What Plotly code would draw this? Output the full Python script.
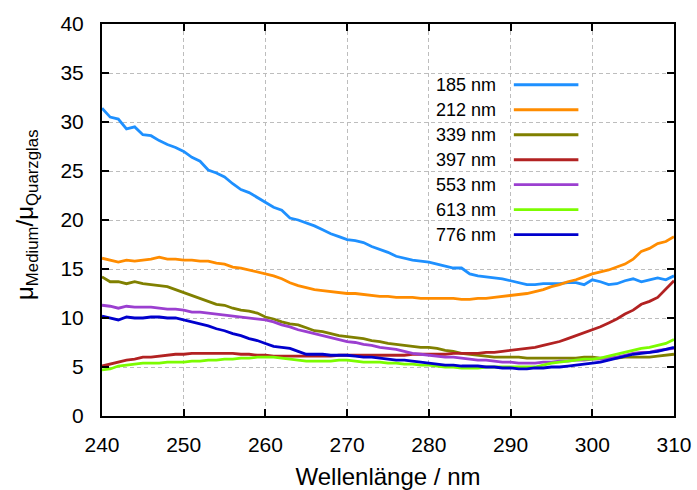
import plotly.graph_objects as go

# Wavelength axis (nm)
wavelength = list(range(240, 311))

# Attenuation ratio mu_Medium / mu_Quarzglas for each excitation wavelength
mu_185 = [31.4, 30.5, 30.3, 29.3, 29.5, 28.7, 28.6, 28.1, 27.7, 27.4,
          27.0, 26.4, 26.0, 25.1, 24.8, 24.4, 23.7, 23.1, 22.8, 22.3,
          21.8, 21.3, 21.0, 20.2, 20.0, 19.7, 19.4, 19.0, 18.6, 18.3,
          18.0, 17.9, 17.7, 17.3, 17.0, 16.7, 16.3, 16.1, 15.9, 15.8,
          15.7, 15.5, 15.3, 15.1, 15.1, 14.5, 14.3, 14.2, 14.1, 14.0,
          13.8, 13.6, 13.4, 13.4, 13.5, 13.5, 13.5, 13.6, 13.6, 13.4,
          13.9, 13.7, 13.4, 13.5, 13.8, 14.0, 13.7, 13.9, 14.1, 13.9,
          14.3]
mu_212 = [16.1, 15.9, 15.7, 15.9, 15.8, 15.9, 16.0, 16.2, 16.0, 16.0,
          15.9, 15.9, 15.8, 15.8, 15.6, 15.5, 15.2, 15.1, 14.9, 14.7,
          14.5, 14.3, 14.0, 13.6, 13.3, 13.1, 12.9, 12.8, 12.7, 12.6,
          12.5, 12.5, 12.4, 12.3, 12.2, 12.2, 12.1, 12.1, 12.1, 12.0,
          12.0, 12.0, 12.0, 12.0, 11.9, 11.9, 12.0, 12.0, 12.1, 12.2,
          12.3, 12.4, 12.5, 12.7, 12.9, 13.2, 13.4, 13.7, 13.9, 14.2,
          14.5, 14.7, 14.9, 15.2, 15.5, 16.0, 16.8, 17.1, 17.6, 17.8,
          18.3]
mu_339 = [14.2, 13.7, 13.7, 13.5, 13.7, 13.5, 13.4, 13.3, 13.2, 12.9,
          12.6, 12.3, 12.0, 11.7, 11.4, 11.3, 11.0, 10.8, 10.7, 10.5,
          10.1, 9.9, 9.6, 9.4, 9.3, 9.0, 8.7, 8.6, 8.4, 8.2,
          8.1, 8.0, 7.9, 7.7, 7.6, 7.4, 7.3, 7.2, 7.1, 7.0,
          7.0, 6.9, 6.7, 6.6, 6.4, 6.3, 6.2, 6.1, 6.0, 6.0,
          6.0, 6.0, 5.9, 5.9, 5.9, 5.9, 5.9, 5.9, 5.9, 6.0,
          6.0, 5.9, 5.9, 5.9, 6.0, 6.0, 6.0, 6.0, 6.1, 6.2,
          6.3]
mu_397 = [5.1, 5.3, 5.5, 5.7, 5.8, 6.0, 6.0, 6.1, 6.2, 6.3,
          6.3, 6.4, 6.4, 6.4, 6.4, 6.4, 6.4, 6.3, 6.3, 6.2,
          6.2, 6.1, 6.1, 6.1, 6.1, 6.1, 6.1, 6.1, 6.1, 6.2,
          6.2, 6.2, 6.2, 6.2, 6.2, 6.2, 6.2, 6.2, 6.3, 6.3,
          6.3, 6.3, 6.3, 6.4, 6.4, 6.4, 6.4, 6.5, 6.5, 6.6,
          6.7, 6.8, 6.9, 7.0, 7.2, 7.4, 7.6, 7.9, 8.2, 8.5,
          8.8, 9.1, 9.5, 9.9, 10.4, 10.8, 11.4, 11.7, 12.1, 13.0,
          13.8]
mu_553 = [11.3, 11.2, 11.0, 11.2, 11.1, 11.1, 11.1, 11.0, 10.9, 10.9,
          10.8, 10.6, 10.6, 10.5, 10.4, 10.3, 10.2, 10.1, 10.0, 9.9,
          9.8, 9.6, 9.3, 9.1, 8.8, 8.6, 8.4, 8.2, 8.0, 7.8,
          7.6, 7.5, 7.3, 7.2, 7.0, 6.9, 6.8, 6.6, 6.4, 6.3,
          6.2, 6.1, 6.0, 6.0, 5.9, 5.8, 5.7, 5.7, 5.6, 5.5,
          5.5, 5.4, 5.4, 5.4, 5.5, 5.5, 5.6, 5.6, 5.7, 5.7,
          5.8, 5.8, 5.9, 6.0, 6.2, 6.4, 6.5, 6.5, 6.7, 6.8,
          6.9]
mu_613 = [4.7, 4.8, 5.1, 5.2, 5.3, 5.4, 5.4, 5.4, 5.5, 5.5,
          5.5, 5.6, 5.6, 5.7, 5.7, 5.8, 5.8, 5.9, 5.9, 6.0,
          6.0, 6.0, 5.9, 5.8, 5.7, 5.6, 5.6, 5.6, 5.6, 5.7,
          5.7, 5.6, 5.5, 5.5, 5.5, 5.4, 5.4, 5.3, 5.3, 5.2,
          5.2, 5.1, 5.0, 5.0, 4.9, 4.9, 4.9, 5.0, 5.0, 5.0,
          5.0, 5.0, 5.0, 5.0, 5.2, 5.4, 5.5, 5.6, 5.7, 5.8,
          5.8, 5.9, 6.1, 6.3, 6.5, 6.7, 6.9, 7.0, 7.2, 7.4,
          7.8]
mu_776 = [10.2, 10.0, 9.8, 10.1, 10.0, 10.0, 10.1, 10.1, 10.0, 10.0,
          9.8, 9.6, 9.4, 9.2, 8.9, 8.7, 8.4, 8.2, 7.9, 7.7,
          7.4, 7.1, 7.0, 6.9, 6.6, 6.3, 6.3, 6.3, 6.2, 6.2,
          6.2, 6.1, 6.0, 6.0, 5.9, 5.8, 5.7, 5.7, 5.6, 5.5,
          5.4, 5.3, 5.2, 5.2, 5.1, 5.1, 5.1, 5.0, 5.0, 4.9,
          4.9, 4.8, 4.8, 4.9, 4.9, 5.0, 5.0, 5.1, 5.2, 5.3,
          5.4, 5.5, 5.7, 5.9, 6.1, 6.3, 6.4, 6.5, 6.6, 6.8,
          7.0]

series_labels = ["185 nm", "212 nm", "339 nm", "397 nm", "553 nm", "613 nm", "776 nm"]
series_values = [mu_185, mu_212, mu_339, mu_397, mu_553, mu_613, mu_776]
series_colors = ["#1e90ff", "#ff8c00", "#808000", "#b22222", "#9b3fd0", "#7cfc00", "#0000cd"]

x_ticks = [240, 250, 260, 270, 280, 290, 300, 310]
y_ticks = [0, 5, 10, 15, 20, 25, 30, 35, 40]

FONT = "Liberation Sans, Arial, Helvetica, sans-serif"

fig = go.Figure()
for label, values, color in zip(series_labels, series_values, series_colors):
    fig.add_trace(go.Scatter(
        x=wavelength, y=values, mode="lines", name=label,
        line=dict(color=color, width=2.8), showlegend=False,
    ))

# Key box: label on the left, line sample on the right
key_top, key_step = 33.8, 2.55
shapes = [dict(type="rect", xref="x", yref="y", x0=277.3, x1=299.8, y0=17.2, y1=35.0,
               fillcolor="white", line=dict(width=0), layer="below")]
annotations = []
for i, (label, color) in enumerate(zip(series_labels, series_colors)):
    yk = key_top - i * key_step
    annotations.append(dict(x=288.4, y=yk, xref="x", yref="y", text=label,
                            showarrow=False, xanchor="right", yanchor="middle",
                            font=dict(size=18, color="black", family=FONT)))
    shapes.append(dict(type="line", xref="x", yref="y", x0=290.4, x1=298.3, y0=yk, y1=yk,
                       line=dict(color=color, width=2.8)))

# Vertical axis title, placed left of the tick labels
annotations.append(dict(
    x=-0.131, y=0.513, xref="paper", yref="paper", textangle=-90,
    text="μ<sub>Medium</sub>/μ<sub>Quarzglas</sub>", showarrow=False,
    xanchor="center", yanchor="middle", font=dict(size=24, color="black", family=FONT),
))

axis_common = dict(
    showline=True, linecolor="black", linewidth=2, mirror="ticks",
    ticks="inside", ticklen=7, tickwidth=1.5, tickcolor="black",
    showgrid=True, gridcolor="#bdbdbd", gridwidth=1, griddash="4px,3px",
    zeroline=False, tickfont=dict(size=21, color="black", family=FONT),
    automargin=False,
)

fig.update_layout(
    width=697, height=490,
    margin=dict(l=102, r=23, t=24, b=74),
    paper_bgcolor="white", plot_bgcolor="white",
    font=dict(family=FONT, color="black"),
    xaxis=dict(range=[240, 310], tickvals=x_ticks, ticklabelstandoff=9,
               title=dict(text="Wellenlänge / nm", font=dict(size=24), standoff=17),
               **axis_common),
    yaxis=dict(range=[0, 40], tickvals=y_ticks, ticklabelstandoff=12, **axis_common),
    shapes=shapes, annotations=annotations,
)

fig.write_html("out.html")
